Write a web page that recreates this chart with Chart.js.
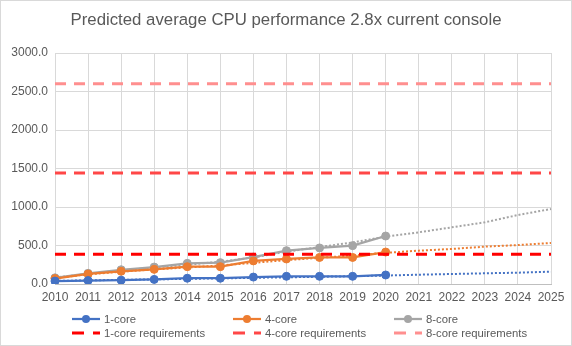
<!DOCTYPE html>
<html>
<head>
<meta charset="utf-8">
<script src="https://cdn.jsdelivr.net/npm/chart.js@4"></script>
<style>
    body { margin: 0; background: #fff; }
    #wrap { position: relative; width: 572px; height: 346px; }
    #frame { position: absolute; left: 0; top: 0; width: 570px; height: 344px; border: 1px solid #d9d9d9; pointer-events: none; }
    #title { position: absolute; left: 0; top: 10px; width: 572px; height: 20px; line-height: 20px; text-align: center;
        font: 16.8px "Liberation Sans", sans-serif; color: #595959; }
    #legend { position: absolute; left: 0; top: 312px; width: 572px; font: 11.3px "Liberation Sans", sans-serif; color: #595959; }
    .item { position: absolute; display: flex; align-items: center; height: 14px; white-space: nowrap; }
    .item svg { margin-right: 3px; }
</style>
</head>
<body>
<div id="wrap">
    <canvas id="myChart" width="572" height="346"></canvas>
    <div id="title">Predicted average CPU performance 2.8x current console</div>
    <div id="legend"></div>
    <div id="frame"></div>
</div>
<script>
const years = ["2010", "2011", "2012", "2013", "2014", "2015", "2016", "2017",
    "2018", "2019", "2020", "2021", "2022", "2023", "2024", "2025"];

// measured values (2010-2020)
const core1 = [38, 45, 50, 60, 75, 75, 90, 100, 100, 100, 117];
const core4 = [70, 130, 165, 190, 225, 225, 300, 325, 345, 345, 415];
const core8 = [80, 139, 185, 220, 268, 277, 350, 433, 468, 498, 623];

// dotted trendlines
const trend1 = [40, 47, 54, 60, 67, 73, 80, 87, 94, 101, 110, 121, 130, 139, 147, 160];
const trend4 = [80, 125, 160, 190, 215, 240, 275, 310, 340, 370, 405, 433, 455, 485, 506, 532];
const trend8 = [85, 130, 175, 215, 250, 290, 345, 420, 480, 540, 615, 671, 736, 801, 896, 974];

// requirement levels
const req1 = 385;
const req4 = 1440;
const req8 = 2600;

const yTicks = [0, 500, 1000, 1500, 2000, 2500, 3000];

const BLUE = "#4472C4", ORANGE = "#ED7D31", GREY = "#A5A5A5";
const RED1 = "#FF0000", RED4 = "#FF4747", RED8 = "#FF8F8F";

function flat(v) {
    return years.map(() => v);
}

function seriesSet(label, data, color) {
    return {
        label: label,
        data: data,
        borderColor: color,
        backgroundColor: color,
        borderWidth: 2.25,
        pointRadius: 4,
        pointHoverRadius: 4,
        pointBorderWidth: 1,
        order: 1
    };
}

function trendSet(data, color) {
    return {
        label: "trend",
        data: data,
        borderColor: color,
        borderWidth: 2,
        borderDash: [2, 2],
        pointRadius: 0,
        order: 2
    };
}

function reqSet(label, v, color) {
    return {
        label: label,
        data: flat(v),
        borderColor: color,
        borderWidth: 3,
        borderDash: [11, 8],
        pointRadius: 0,
        order: 0
    };
}

const ctx = document.getElementById("myChart").getContext("2d");

new Chart(ctx, {
    type: "line",
    data: {
        labels: years,
        datasets: [
            seriesSet("1-core", core1, BLUE),
            seriesSet("4-core", core4, ORANGE),
            seriesSet("8-core", core8, GREY),
            trendSet(trend1, BLUE),
            trendSet(trend4, ORANGE),
            trendSet(trend8, GREY),
            reqSet("1-core requirements", req1, RED1),
            reqSet("4-core requirements", req4, RED4),
            reqSet("8-core requirements", req8, RED8)
        ]
    },
    options: {
        responsive: false,
        animation: false,
        layout: {
            padding: { left: 0, right: 21, top: 53, bottom: 42 }
        },
        plugins: {
            legend: { display: false },
            tooltip: { enabled: false },
            title: { display: false }
        },
        scales: {
            x: {
                grid: { color: "#d9d9d9", drawTicks: false },
                border: { color: "#bfbfbf" },
                ticks: {
                    color: "#595959",
                    font: { family: "Liberation Sans", size: 12 },
                    padding: 6,
                    maxRotation: 0,
                    autoSkip: false
                },
                afterFit: (scale) => { scale.height = 20; }
            },
            y: {
                min: 0,
                max: 3000,
                afterBuildTicks: (scale) => {
                    scale.ticks = yTicks.map((v) => ({ value: v }));
                },
                grid: { color: "#d9d9d9", drawTicks: false },
                border: { display: false },
                ticks: {
                    color: "#595959",
                    font: { family: "Liberation Sans", size: 12 },
                    padding: 7,
                    callback: (v) => v.toFixed(1)
                },
                afterFit: (scale) => { scale.width = 55; }
            }
        }
    }
});

// legend laid out like the original, 3 columns x 2 rows
const legendItems = [
    { text: "1-core", color: BLUE, kind: "marker", x: 71, y: 0 },
    { text: "4-core", color: ORANGE, kind: "marker", x: 232, y: 0 },
    { text: "8-core", color: GREY, kind: "marker", x: 393, y: 0 },
    { text: "1-core requirements", color: RED1, kind: "dash", x: 71, y: 14 },
    { text: "4-core requirements", color: RED4, kind: "dash", x: 232, y: 14 },
    { text: "8-core requirements", color: RED8, kind: "dash", x: 393, y: 14 }
];

const legend = document.getElementById("legend");
legendItems.forEach((item) => {
    const el = document.createElement("div");
    el.className = "item";
    el.style.left = item.x + "px";
    el.style.top = item.y + "px";
    let swatch;
    if (item.kind === "marker") {
        swatch = `<svg width="30" height="12"><line x1="1" y1="6" x2="29" y2="6" stroke="${item.color}" stroke-width="2.25"/>` +
            `<circle cx="15" cy="6" r="4" fill="${item.color}"/></svg>`;
    } else {
        swatch = `<svg width="30" height="12"><line x1="1" y1="6" x2="29" y2="6" stroke="${item.color}" stroke-width="3" stroke-dasharray="12 9"/></svg>`;
    }
    el.innerHTML = swatch + "<span>" + item.text + "</span>";
    legend.appendChild(el);
});
</script>
</body>
</html>
